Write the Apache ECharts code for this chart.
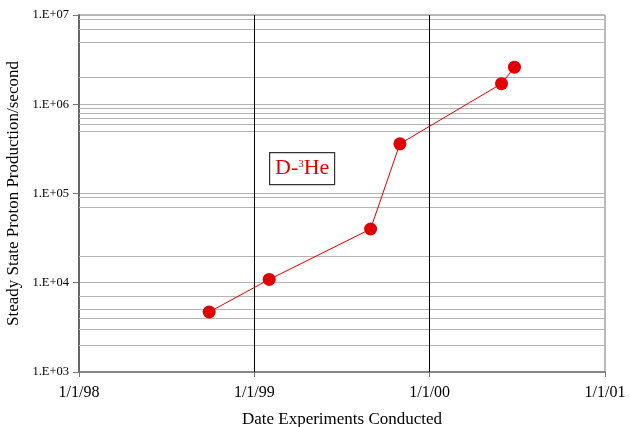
<!DOCTYPE html>
<html>
<head>
<meta charset="utf-8">
<script src="https://cdn.jsdelivr.net/npm/echarts@6/dist/echarts.min.js"></script>
<style>
  html, body { margin: 0; padding: 0; background: #fff; }
  #chart { width: 630px; height: 427px; }
</style>
</head>
<body>
<div id="chart"></div>
<script>
// Proton production data
const runDates = ['1998-09-29', '1999-02-01', '1999-08-31', '1999-10-31', '2000-05-30', '2000-06-26'];
const protonRates = [4700, 10900, 40000, 360000, 1700000, 2600000];

// Axis range and gridlines
const yearTicks = [1998, 1999, 2000, 2001];
const yearGrid = [1999, 2000];
const minorGrid = [2e3, 3e3, 4e3, 5e3, 7e3, 2e4, 7e4, 9e4, 5e5, 6e5, 7e5, 8e5, 9e5, 2e6, 5e6, 7e6, 9e6];

const serif = 'Liberation Serif, Times New Roman, serif';
const red = '#e00000';

// date string -> fractional year
function toYear(s) {
    const d = new Date(s + 'T00:00:00Z');
    const y = d.getUTCFullYear();
    const start = Date.UTC(y, 0, 1);
    const end = Date.UTC(y + 1, 0, 1);
    return y + (d.getTime() - start) / (end - start);
}

const points = runDates.map((d, i) => [toYear(d), protonRates[i]]);

const chart = echarts.init(document.getElementById('chart'));

chart.setOption({
    animation: false,
    backgroundColor: '#fff',
    grid: {
        left: 79, right: 25, top: 15, bottom: 55,
        outerBoundsMode: 'none',
        containLabel: false,
        show: true, borderColor: '#777', borderWidth: 1
    },
    xAxis: {
        type: 'value',
        min: yearTicks[0],
        max: yearTicks[yearTicks.length - 1],
        interval: 1,
        name: 'Date Experiments Conducted',
        nameLocation: 'middle',
        nameGap: 39,
        nameTextStyle: { fontFamily: serif, fontSize: 17, color: '#000' },
        axisLine: { lineStyle: { color: '#777', width: 1.5 } },
        axisTick: { length: 5, lineStyle: { color: '#777' } },
        axisLabel: {
            fontFamily: serif, fontSize: 16, color: '#000', margin: 13,
            formatter: v => '1/1/' + String(v).slice(2)
        },
        splitLine: { show: false }
    },
    yAxis: {
        type: 'log',
        logBase: 10,
        min: 1e3,
        max: 1e7,
        name: 'Steady State Proton Production/second',
        nameLocation: 'middle',
        nameGap: 51,
        nameTextStyle: { fontFamily: serif, fontSize: 17, color: '#000' },
        axisLine: { lineStyle: { color: '#666', width: 2 } },
        axisTick: { length: 6, lineStyle: { color: '#777' } },
        axisLabel: {
            fontFamily: serif, fontSize: 12.5, color: '#000', margin: 10,
            formatter: v => '1.E+' + String(Math.round(Math.log10(v))).padStart(2, '0')
        },
        splitLine: { lineStyle: { color: '#b4b4b4', width: 1 } }
    },
    series: [
        {
            // gridlines only
            type: 'line',
            data: [],
            z: 1,
            markLine: {
                silent: true,
                symbol: 'none',
                label: { show: false },
                animation: false,
                data: minorGrid.map(v => ({ yAxis: v, lineStyle: { color: '#b4b4b4', width: 1, type: 'solid' } }))
                    .concat(yearGrid.map(v => ({ xAxis: v, lineStyle: { color: '#000', width: 1, type: 'solid' } })))
            }
        },
        {
            name: 'D-3He',
            type: 'line',
            z: 5,
            data: points,
            symbol: 'circle',
            symbolSize: 13,
            itemStyle: { color: red },
            lineStyle: { color: red, width: 1 }
        }
    ],
    graphic: [
        {
            type: 'rect',
            left: 269, top: 152,
            shape: { width: 65, height: 32 },
            style: { fill: '#fff', stroke: '#333', lineWidth: 1.2 },
            z: 10
        },
        {
            type: 'text',
            left: 275, top: 156,
            z: 11,
            style: {
                text: '{a|D-}{s|3}{a|He}',
                rich: {
                    a: { fontFamily: serif, fontSize: 22, fill: red, lineHeight: 24 },
                    s: { fontFamily: serif, fontSize: 11, fill: red, verticalAlign: 'top', lineHeight: 24, padding: [3, 0, 0, 0] }
                }
            }
        }
    ]
});
</script>
</body>
</html>
